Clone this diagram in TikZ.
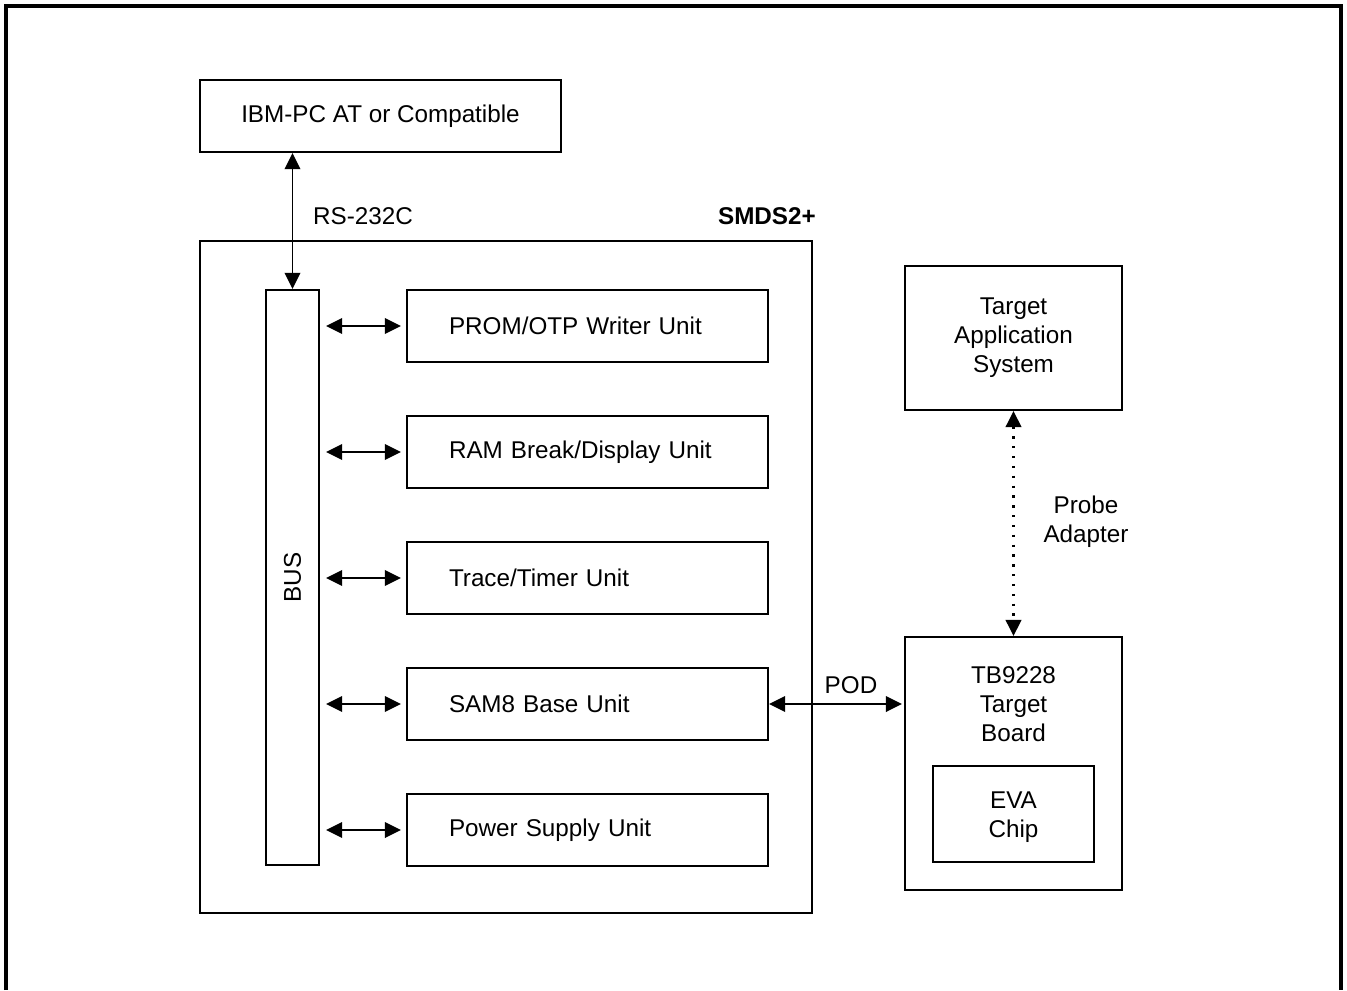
\documentclass[tikz,border=0pt]{standalone}
\usepackage{fontspec}
\setmainfont{Liberation Sans}
\usepackage{tikz}
\usetikzlibrary{arrows.meta, positioning, calc}
\tikzset{
  box/.style={draw, line width=1.2pt, align=center, inner sep=0pt},
  unit/.style={box, minimum height=1.44cm, text width=5.54cm, inner xsep=0.84cm, align=left},
  arr/.style={{Triangle[length=3.2mm, width=3.1mm]}-{Triangle[length=3.2mm, width=3.1mm]}, line width=1.1pt},
}

\begin{document}
\begin{tikzpicture}[font=\fontsize{13.8}{16.5}\selectfont]
  \useasboundingbox (0,0) rectangle (26.94,-19.8);
  \draw[line width=1.8pt] (0.12,-19.8) -- (0.12,-0.12) -- (26.82,-0.12) -- (26.82,-19.8);
  % host and emulator
  \node[box, minimum width=7.22cm, minimum height=1.44cm] (pc) at (7.61,-2.32) {IBM-PC AT or Compatible};
  \node[box, minimum width=12.24cm, minimum height=13.44cm] (smds) at (10.12,-11.54) {};
  \node[anchor=east, font=\fontsize{13.8}{16.5}\selectfont\bfseries] (smdslbl) at (16.44,-4.32) {SMDS2+};
  \node[box, minimum width=1.06cm, minimum height=11.5cm] (bus) at (5.85,-11.55) {};
  \node[rotate=90] (buslbl) at (bus.center) {BUS};
  \node[unit] (prom) at (11.75,-6.52) {PROM/OTP Writer Unit};
  \node[unit] (ram) at (11.75,-9.04) {RAM Break/Display Unit};
  \node[unit] (trace) at (11.75,-11.56) {Trace/Timer Unit};
  \node[unit] (base) at (11.75,-14.08) {SAM8 Base Unit};
  \node[unit] (power) at (11.75,-16.6) {Power Supply Unit};
  \foreach \u in {prom, ram, trace, base, power}
    \draw[arr, shorten <=0.12cm, shorten >=0.1cm] (bus.east |- \u.west) -- (\u.west);
  \draw[arr] (bus.north |- pc.south) -- (bus.north);
  \node[anchor=west] (rs) at (6.14,-4.32) {RS-232C};
  % target side
  \node[box, minimum width=4.34cm, minimum height=2.88cm] (app) at (20.27,-6.76) {Target\\Application\\System};
  \node[box, minimum width=4.34cm, minimum height=5.06cm] (tb) at (20.27,-15.27) {};
  \node[align=center] (tblbl) at (20.27,-14.08) {TB9228\\Target\\Board};
  \node[box, minimum width=3.22cm, minimum height=1.92cm] (eva) at (20.27,-16.28) {};
  \node[align=center] (evalbl) at (20.27,-16.34) {EVA\\Chip};
  \draw[arr, line width=1.3pt, dash pattern=on 1.3pt off 4.3pt] (app.south) -- (tb.north);
  \node[align=center] (probe) at (21.72,-10.44) {Probe\\Adapter};
  \draw[arr, shorten >=0.04cm] (base.east) -- (tb.west |- base.east);
  \node (pod) at (17.02,-13.7) {POD};
\end{tikzpicture}
\end{document}
